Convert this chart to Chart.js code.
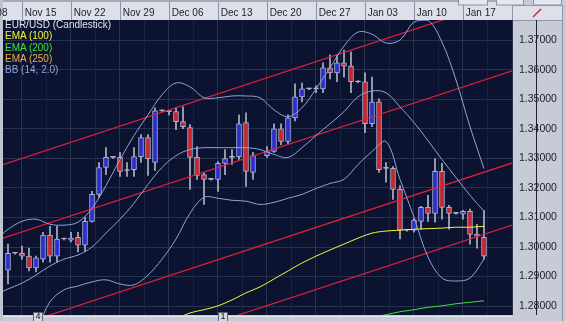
<!DOCTYPE html>
<html>
<head>
<meta charset="utf-8">
<script src="https://cdn.jsdelivr.net/npm/chart.js@4/dist/chart.umd.min.js"></script>
<style>
  html, body { margin: 0; padding: 0; background: #c6cbd7; }
  #wrap { position: relative; width: 566px; height: 321px; overflow: hidden; }
  #legend { position: absolute; left: 5px; top: 19px; font: 10px "Liberation Sans", Arial, sans-serif; line-height: 11.3px; pointer-events: none; white-space: nowrap; }
</style>
</head>
<body>
<div id="wrap">
  <canvas id="chart" width="566" height="321"></canvas>
  <div id="legend"></div>
</div>
<script>
/* ---------- data (EUR/USD daily, index 2 = Mon Nov 15) ---------- */
const opens  = [1.2922,1.2979,1.2979,1.2969,1.2929,1.2959,1.3040,1.2969,1.3027,1.3023,1.3033,1.3006,1.3087,1.3178,1.3269,1.3303,1.3303,1.3259,1.3262,1.3306,1.3370,1.3286,1.3461,1.3458,1.3458,1.3424,1.3404,1.3303,1.3245,1.3229,1.3229,1.3283,1.3303,1.3306,1.3421,1.3252,null,1.3309,1.3323,1.3400,1.3357,1.3437,1.3508,1.3535,1.3535,1.3535,1.3606,1.3589,1.3623,1.3612,1.3559,1.3559,1.3417,1.3491,1.3266,1.3266,1.3195,1.3057,1.3057,1.3087,1.3134,1.3114,1.3256,1.3134,1.3114,1.3111,1.3121,1.3043,1.3033];
const highs  = [1.3010,1.2982,1.3003,1.2996,1.2969,1.3050,1.3070,1.3070,1.3030,1.3050,1.3050,1.3101,1.3188,1.3286,1.3336,1.3306,1.3320,1.3286,1.3336,1.3380,1.3380,1.3471,1.3464,1.3461,1.3471,1.3474,1.3414,1.3340,1.3252,1.3232,1.3289,1.3330,1.3330,1.3447,1.3454,1.3320,null,1.3340,1.3417,1.3417,1.3447,1.3552,1.3555,1.3538,1.3545,1.3623,1.3650,1.3650,1.3666,1.3660,1.3562,1.3589,1.3575,1.3501,1.3286,1.3272,1.3208,1.3060,1.3097,1.3138,1.3175,1.3299,1.3283,1.3141,1.3117,1.3124,1.3128,1.3077,1.3124];
const lows   = [1.2875,1.2976,1.2959,1.2919,1.2916,1.2949,1.2949,1.2949,1.3024,1.3017,1.2983,1.2986,1.3084,1.3168,1.3245,1.3300,1.3239,1.3239,1.3239,1.3286,1.3242,1.3259,1.3458,1.3447,1.3397,1.3400,1.3195,1.3229,1.3144,1.3226,1.3188,1.3245,1.3279,1.3296,1.3205,1.3229,null,1.3303,1.3320,1.3346,1.3346,1.3427,1.3491,1.3532,1.3522,1.3522,1.3569,1.3559,1.3575,1.3522,1.3556,1.3387,1.3407,1.3252,1.3219,1.3161,1.3027,1.3054,1.3050,1.3060,1.3087,1.3084,1.3094,1.3060,1.3111,1.3094,1.3010,1.2996,1.2959];
const closes = [1.2979,1.2979,1.2969,1.2929,1.2963,1.3040,1.2969,1.3027,1.3027,1.3030,1.3006,1.3087,1.3178,1.3269,1.3303,1.3303,1.3256,1.3259,1.3306,1.3370,1.3299,1.3461,1.3461,1.3458,1.3424,1.3407,1.3303,1.3242,1.3229,1.3229,1.3283,1.3299,1.3303,1.3417,1.3256,1.3309,null,1.3323,1.3400,1.3357,1.3437,1.3508,1.3535,1.3535,1.3535,1.3606,1.3589,1.3623,1.3612,1.3559,1.3559,1.3417,1.3491,1.3262,1.3266,1.3195,1.3057,1.3057,1.3091,1.3134,1.3114,1.3256,1.3134,1.3114,1.3114,1.3121,1.3043,1.3037,1.2969];

// Bollinger (14, 2.0), read every other bar
const bbIdx    = [-1,0,2,4,6,8,10,12,14,16,18,20,22,24,26,28,30,32,34,36,38,40,42,44,46,48,50,52,54,56,58,60,62,64,66,68];
const bbUpper  = [1.3040,1.3060,1.3087,1.3094,1.3077,1.3074,1.3084,1.3131,1.3208,1.3296,1.3377,1.3447,1.3515,1.3555,1.3542,1.3505,1.3505,1.3511,1.3511,1.3505,1.3464,1.3441,1.3471,1.3535,1.3606,1.3680,1.3727,1.3720,1.3690,1.3700,1.3761,1.3767,1.3693,1.3565,1.3407,1.3265];
const bbMiddle = [1.2848,1.2858,1.2878,1.2905,1.2936,1.2959,1.2973,1.3000,1.3047,1.3094,1.3148,1.3212,1.3269,1.3309,1.3330,1.3336,1.3336,1.3336,1.3336,1.3330,1.3313,1.3303,1.3336,1.3377,1.3417,1.3458,1.3508,1.3528,1.3522,1.3474,1.3421,1.3360,1.3296,1.3235,1.3175,1.3121];
const bbLower  = [1.2673,1.2683,1.2700,1.2724,1.2815,1.2855,1.2868,1.2882,1.2889,1.2875,1.2872,1.2905,1.2959,1.3027,1.3114,1.3168,1.3165,1.3158,1.3155,1.3144,1.3151,1.3165,1.3178,1.3198,1.3215,1.3229,1.3279,1.3323,1.3357,1.3229,1.3101,1.2966,1.2895,1.2885,1.2895,1.2959];

const ema100Idx = [24,26,28,30,32,34,36,38,40,42,44,46,48,50,52,54,56,58,60,62,64,66,68];
const ema100    = [1.2757,1.2777,1.2788,1.2801,1.2821,1.2845,1.2865,1.2892,1.2919,1.2946,1.2969,1.2990,1.3010,1.3030,1.3047,1.3054,1.3057,1.3060,1.3062,1.3064,1.3067,1.3067,1.3070];
const ema200Idx = [52,54,56,58,60,62,64,66,68];
const ema200    = [1.2761,1.2771,1.2781,1.2788,1.2796,1.2801,1.2808,1.2813,1.2818];

// hand-drawn channel lines (two end points each)
const chanIdx = [-2, 73];
const chanA = [1.3269, 1.3853];
const chanB = [1.3020, 1.3604];
const chanC = [1.2708, 1.3292];
const chanD = [1.2498, 1.3082];

const weekTicks  = [-5, 2, 9, 16, 23, 30, 37, 44, 51, 58, 65, 72];
const weekLabels = ['Nov 08','Nov 15','Nov 22','Nov 29','Dec 06','Dec 13','Dec 20','Dec 27','Jan 03','Jan 10','Jan 17',''];
const priceTicks = [1.28, 1.29, 1.30, 1.31, 1.32, 1.33, 1.34, 1.35, 1.36, 1.37];

const markerIdx    = [4.3, 30.7];
const markerLabels = ['4', '1'];

const legendNames  = ['EUR/USD (Candlestick)', 'EMA (100)', 'EMA (200)', 'EMA (250)', 'BB (14, 2.0)'];
const legendColors = ['#dfe3ee', '#f4f43a', '#3ee03e', '#f0b040', '#8ea4d8'];

/* ---------- helpers ---------- */
const FONT = '"Liberation Sans", Arial, sans-serif';
const BULL = '#2b2fd0', BEAR = '#c8262c', DOJI = '#b4b9c8';

const bodies = [], wicks = [];
opens.forEach((o, i) => {
  if (o == null) return;
  bodies.push({ x: i, y: [o, closes[i]] });
  wicks.push({ x: i, y: [lows[i], highs[i]] });
});
const candleFill = c => {
  if (!c.raw) return BULL;
  const [o, cl] = c.raw.y;
  return cl > o ? BULL : cl < o ? BEAR : DOJI;
};
const candleEdge = c => {
  if (!c.raw) return '#aab2d8';
  const [o, cl] = c.raw.y;
  return o === cl ? DOJI : '#aab2d8';
};
const pts = (idx, vals) => idx.map((x, k) => ({ x, y: vals[k] }));
const line = (label, idx, vals, color, extra) => Object.assign({
  type: 'line', label, data: pts(idx, vals), borderColor: color, borderWidth: 1,
  pointRadius: 0, tension: 0.35, fill: false, order: 1
}, extra || {});

const xGrid = [];
weekTicks.forEach(v => { xGrid.push({ value: v, major: true }); xGrid.push({ value: v + 3.5 }); });
const yGrid = [];
priceTicks.forEach(v => { yGrid.push({ value: v, major: true }); yGrid.push({ value: +(v + 0.005).toFixed(3) }); });

/* ---------- frame plugin: header, price panel, markers ---------- */
const framePlugin = {
  id: 'frame',
  beforeDraw(chart) {
    const { ctx, chartArea: a, width, height } = chart;
    const xs = chart.scales.x;
    ctx.save();
    ctx.fillStyle = '#c6cbd7';
    ctx.fillRect(0, 0, width, height);
    // date header
    ctx.fillStyle = '#dde0e9';
    ctx.fillRect(0, 2, a.right, a.top - 2);
    ctx.fillStyle = '#a3a9b8';
    ctx.fillRect(0, 0, a.right, 2);
    // plot background
    ctx.fillStyle = '#0b1331';
    ctx.fillRect(a.left, a.top, a.right - a.left, a.bottom - a.top);
    // header separators
    ctx.strokeStyle = '#8c93a6';
    ctx.lineWidth = 1;
    weekTicks.forEach(v => {
      const px = Math.round(xs.getPixelForValue(v)) + 0.5;
      if (px < 0 || px > width) return;
      ctx.beginPath(); ctx.moveTo(px, 2); ctx.lineTo(px, a.top); ctx.stroke();
    });
    // corner box with draw-tool icon
    ctx.fillStyle = '#dde0e9';
    ctx.fillRect(a.right + 1, 6, width - a.right - 5, a.top - 6);
    ctx.strokeStyle = '#9197a8';
    ctx.strokeRect(a.right + 0.5, 5.5, width - a.right - 4, a.top - 5);
    ctx.strokeStyle = '#d02030';
    ctx.lineWidth = 1.5;
    ctx.beginPath(); ctx.moveTo(533, 17); ctx.lineTo(541, 9); ctx.stroke();
    // toolbar buttons peeking at the top
    ctx.lineWidth = 1;
    ctx.fillStyle = '#e4e7ee';
    ctx.strokeStyle = '#8c93a6';
    [[458, 29], [496, 27], [533, 28]].forEach(([bx, bw]) => {
      ctx.fillRect(bx, 0, bw, 5);
      ctx.strokeRect(bx + 0.5, -1, bw, 6);
    });
    // price panel border + bottom strip
    ctx.fillStyle = '#8a90a0';
    ctx.fillRect(width - 4, a.top, 1, height - a.top);
    ctx.fillStyle = '#e3e6ed';
    ctx.fillRect(0, a.bottom + 1, a.right, 1);
    ctx.fillStyle = '#bfc4d0';
    ctx.fillRect(0, 0, a.left, height);
    ctx.restore();
  },
  afterDraw(chart) {
    const { ctx, chartArea: a } = chart;
    const xs = chart.scales.x;
    ctx.save();
    ctx.font = '9px ' + FONT;
    ctx.textAlign = 'center';
    ctx.textBaseline = 'middle';
    markerIdx.forEach((v, k) => {
      const px = Math.round(xs.getPixelForValue(v));
      ctx.fillStyle = '#d6d9e1';
      ctx.fillRect(px - 5, a.bottom - 3, 10, 10);
      ctx.strokeStyle = '#5a6070';
      ctx.strokeRect(px - 4.5, a.bottom - 2.5, 9, 9);
      ctx.fillStyle = '#101018';
      ctx.fillText(markerLabels[k], px, a.bottom + 2);
    });
    ctx.restore();
  }
};

/* ---------- chart ---------- */
const chart = new Chart(document.getElementById('chart'), {
  type: 'bar',
  data: {
    datasets: [
      line('BB (14, 2.0) upper', bbIdx, bbUpper, '#8ea4d8'),
      line('BB (14, 2.0) middle', bbIdx, bbMiddle, '#8ea4d8'),
      line('BB (14, 2.0) lower', bbIdx, bbLower, '#8ea4d8'),
      line('EMA (100)', ema100Idx, ema100, '#f4f43a'),
      line('EMA (200)', ema200Idx, ema200, '#3ee03e'),
      line('Channel 1', chanIdx, chanA, '#e0203a', { tension: 0, borderWidth: 1.2 }),
      line('Channel 2', chanIdx, chanB, '#e0203a', { tension: 0, borderWidth: 1.2 }),
      line('Channel 3', chanIdx, chanC, '#e0203a', { tension: 0, borderWidth: 1.2 }),
      line('Channel 4', chanIdx, chanD, '#e0203a', { tension: 0, borderWidth: 1.2 }),
      {
        label: 'EUR/USD wicks', data: wicks, grouped: false, order: 6,
        barThickness: 1, backgroundColor: '#aeb4c4', borderWidth: 0
      },
      {
        label: 'EUR/USD (Candlestick)', data: bodies, grouped: false, order: 5,
        barThickness: 5, minBarLength: 1, borderSkipped: false, borderWidth: 1,
        backgroundColor: candleFill, borderColor: candleEdge
      }
    ]
  },
  options: {
    responsive: false,
    animation: false,
    layout: { padding: { left: 3, right: 0, top: 0, bottom: 6 } },
    plugins: { legend: { display: false }, tooltip: { enabled: false } },
    scales: {
      x: {
        type: 'linear', position: 'top', min: -0.714, max: 72, bounds: 'data',
        offset: false,
        afterBuildTicks: s => { s.ticks = xGrid.map(t => ({ ...t })); },
        afterFit: s => { s.height = 20; s.paddingLeft = 0; s.paddingRight = 0; },
        ticks: {
          autoSkip: false, maxRotation: 0, minRotation: 0, align: 'start', padding: 1,
          color: '#1b1d2a', font: { family: FONT, size: 10 },
          callback: (v, i, ticks) => ticks[i].major ? ' ' + weekLabels[weekTicks.indexOf(v)] : ''
        },
        grid: {
          offset: false, drawTicks: false, lineWidth: 1,
          color: c => (c.tick && c.tick.major) ? '#27324f' : '#18213f'
        },
        border: { display: false }
      },
      y: {
        position: 'right', min: 1.2770, max: 1.3768, bounds: 'data', beginAtZero: false,
        afterBuildTicks: s => { s.ticks = yGrid.map(t => ({ ...t })); },
        afterFit: s => { s.width = 54; s.paddingTop = 0; s.paddingBottom = 0; },
        ticks: {
          crossAlign: 'near', padding: 7, color: '#1b1d2a',
          font: { family: FONT, size: 10.5 },
          callback: (v, i, ticks) => ticks[i].major ? v.toFixed(5) : ''
        },
        grid: {
          drawTicks: false, lineWidth: 1,
          color: c => (c.tick && c.tick.major) ? '#27324f' : '#18213f'
        },
        border: { display: false }
      }
    }
  },
  plugins: [framePlugin]
});

/* ---------- legend ---------- */
const lg = document.getElementById('legend');
legendNames.forEach((name, k) => {
  const d = document.createElement('div');
  d.textContent = name;
  d.style.color = legendColors[k];
  lg.appendChild(d);
});
</script>
</body>
</html>
